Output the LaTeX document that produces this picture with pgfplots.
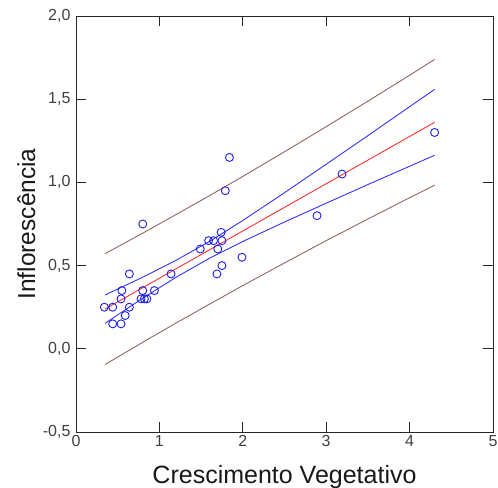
\documentclass[border=0pt]{standalone}
\usepackage{pgfplots}
\pgfplotsset{compat=1.18}
\usepackage{fontspec}
\setmainfont{Liberation Sans}
\definecolor{brownline}{RGB}{150,100,100}
\definecolor{redline}{RGB}{250,50,50}
\definecolor{blueline}{RGB}{50,50,250}
\definecolor{markblue}{RGB}{30,30,230}
\begin{document}
\begin{tikzpicture}
\begin{axis}[
  at={(0,0)}, anchor=south west,
  scale only axis,
  width=417bp, height=416bp,
  xmin=0, xmax=5, ymin=-0.5, ymax=2,
  xtick={0,1,2,3,4,5},
  ytick={-0.5,0,0.5,1,1.5,2},
  tick align=inside,
  major tick length=10bp,
  xtick pos=both, ytick pos=both,
  axis line style={black!85, line width=0.9bp},
  every tick/.style={black!85, line width=0.9bp},
  /pgf/number format/assume math mode=true,
  /pgf/number format/use comma,
  yticklabel style={/pgf/number format/fixed, /pgf/number format/fixed zerofill, /pgf/number format/precision=1, font=\fontsize{16bp}{18bp}\selectfont, text=black!75, xshift=-2bp},
  xticklabel style={font=\fontsize{16bp}{18bp}\selectfont, text=black!75},
  xlabel={Crescimento Vegetativo},
  ylabel={Inflorescência},
  xlabel style={at={(axis description cs:0.5,-0.1226)}, anchor=base, font=\fontsize{25bp}{28bp}\selectfont, text=black!90},
  ylabel style={at={(axis description cs:-0.0983,0.5)}, anchor=base, font=\fontsize{24.5bp}{28bp}\selectfont, text=black!90},
  clip=false,
]
% prediction band
\addplot[brownline, line width=0.9bp] coordinates {(0.35,0.572) (0.8,0.695) (1.2,0.807) (1.6,0.920) (2.0,1.036) (2.5,1.184) (3.0,1.335) (3.5,1.488) (4.0,1.644) (4.3,1.739)};
\addplot[brownline, line width=0.9bp] coordinates {(0.35,-0.094) (0.8,0.039) (1.2,0.155) (1.6,0.268) (2.0,0.380) (2.5,0.516) (3.0,0.650) (3.5,0.780) (4.0,0.908) (4.3,0.983)};
% confidence band
\addplot[blueline, line width=0.9bp] coordinates {(0.35,0.324) (0.8,0.430) (1.2,0.532) (1.6,0.645) (2.0,0.771) (2.5,0.938) (3.0,1.109) (3.5,1.281) (4.0,1.455) (4.3,1.559)};
\addplot[blueline, line width=0.9bp] coordinates {(0.35,0.154) (0.8,0.304) (1.2,0.430) (1.6,0.544) (2.0,0.645) (2.5,0.762) (3.0,0.875) (3.5,0.987) (4.0,1.097) (4.3,1.163)};
% regression line
\addplot[redline, line width=0.9bp] coordinates {(0.35,0.2394) (4.3,1.3612)};
% data points
\addplot[only marks, mark=o, mark size=4bp, markblue, mark options={line width=0.9bp}] coordinates {
(0.34,0.25) (0.44,0.25) (0.44,0.15) (0.54,0.15) (0.55,0.35) (0.54,0.30)
(0.59,0.20) (0.64,0.25) (0.64,0.45) (0.80,0.35) (0.78,0.30) (0.82,0.30)
(0.85,0.30) (0.80,0.75) (0.94,0.35) (1.14,0.45) (1.49,0.60) (1.59,0.65)
(1.65,0.65) (1.70,0.60) (1.74,0.70) (1.75,0.65) (1.69,0.45) (1.75,0.50)
(1.79,0.95) (1.84,1.15) (1.99,0.55) (2.89,0.80) (3.19,1.05) (4.30,1.30)
};
\end{axis}
\pgfresetboundingbox
\useasboundingbox (-76bp,-56bp) rectangle (422bp,432bp);
\end{tikzpicture}
\end{document}
